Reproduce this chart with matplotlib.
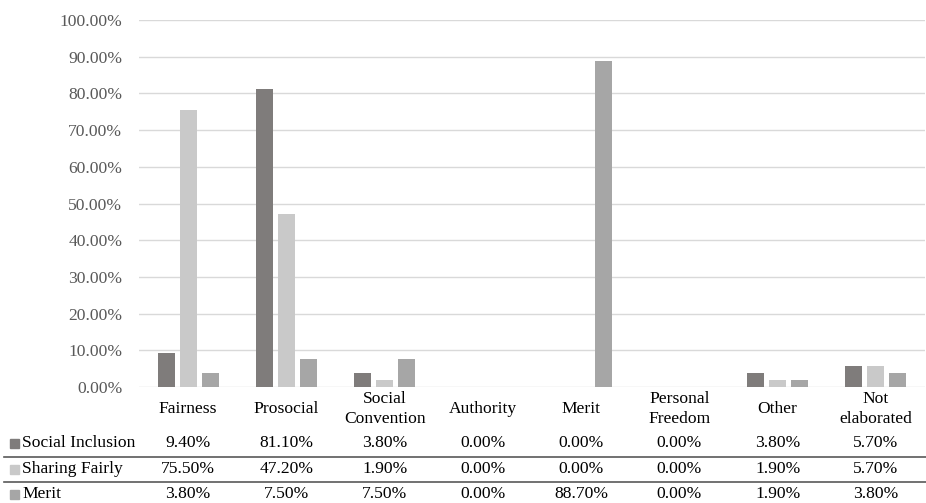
import numpy as np
import matplotlib.pyplot as plt
import matplotlib.transforms as mtransforms
from matplotlib.patches import Rectangle

plt.rcParams['font.family'] = ['Liberation Serif', 'DejaVu Serif']

categories = ['Fairness', 'Prosocial', 'Social\nConvention', 'Authority', 'Merit',
              'Personal\nFreedom', 'Other', 'Not\nelaborated']
series_names = ['Social Inclusion', 'Sharing Fairly', 'Merit']
social_inclusion = [9.40, 81.10, 3.80, 0.00, 0.00, 0.00, 3.80, 5.70]
sharing_fairly = [75.50, 47.20, 1.90, 0.00, 0.00, 0.00, 1.90, 5.70]
merit = [3.80, 7.50, 7.50, 0.00, 88.70, 0.00, 1.90, 3.80]
series = [social_inclusion, sharing_fairly, merit]
colors = ['#7f7c7b', '#c9c9c9', '#a6a6a6']

fig = plt.figure(figsize=(9.26, 5.03), dpi=100)
W, H = 926, 503
ax = fig.add_axes([139 / W, 1 - 387 / H, (925 - 139) / W, (387 - 20) / H])

x = np.arange(len(categories))
bw = 0.173
step = 0.224
for i, (vals, c) in enumerate(zip(series, colors)):
    ax.bar(x + (i - 1) * step, vals, width=bw, color=c, zorder=3)

ax.set_xlim(-0.5, len(categories) - 0.5)
ax.set_ylim(0, 100)
ax.set_yticks(np.arange(0, 101, 10))
ax.set_yticklabels([f'{v:.2f}%' for v in np.arange(0, 101, 10)])
ax.tick_params(axis='y', length=0, pad=12, labelsize=12.6, labelcolor='#595959')
ax.set_xticks([])
ax.grid(axis='y', color='#d9d9d9', linewidth=1, zorder=0)
for s in ax.spines.values():
    s.set_visible(False)

# data table under the bars
tr = mtransforms.blended_transform_factory(ax.transData, fig.transFigure)
fs = 12.6
cat_y = 1 - 409 / H
for xi, name in zip(x, categories):
    ax.text(xi, cat_y, name, transform=tr, ha='center', va='center',
            fontsize=fs, linespacing=1.3, color='#000000')

row_y = [443, 469, 494]
for name, vals, c, ry in zip(series_names, series, colors, row_y):
    yf = 1 - ry / H
    fig.patches.append(Rectangle((10 / W, yf - 4.5 / H), 9 / W, 9 / H,
                                 transform=fig.transFigure, color=c))
    fig.text(22 / W, yf, name, ha='left', va='center', fontsize=fs)
    for xi, v in zip(x, vals):
        ax.text(xi, yf, f'{v:.2f}%', transform=tr, ha='center', va='center', fontsize=fs)

for ly in [456.5, 481.5]:
    fig.add_artist(plt.Line2D([4 / W, 926 / W], [1 - ly / H, 1 - ly / H],
                              transform=fig.transFigure, color='#595959', linewidth=1.2))

fig.savefig('out.png', dpi=100)
